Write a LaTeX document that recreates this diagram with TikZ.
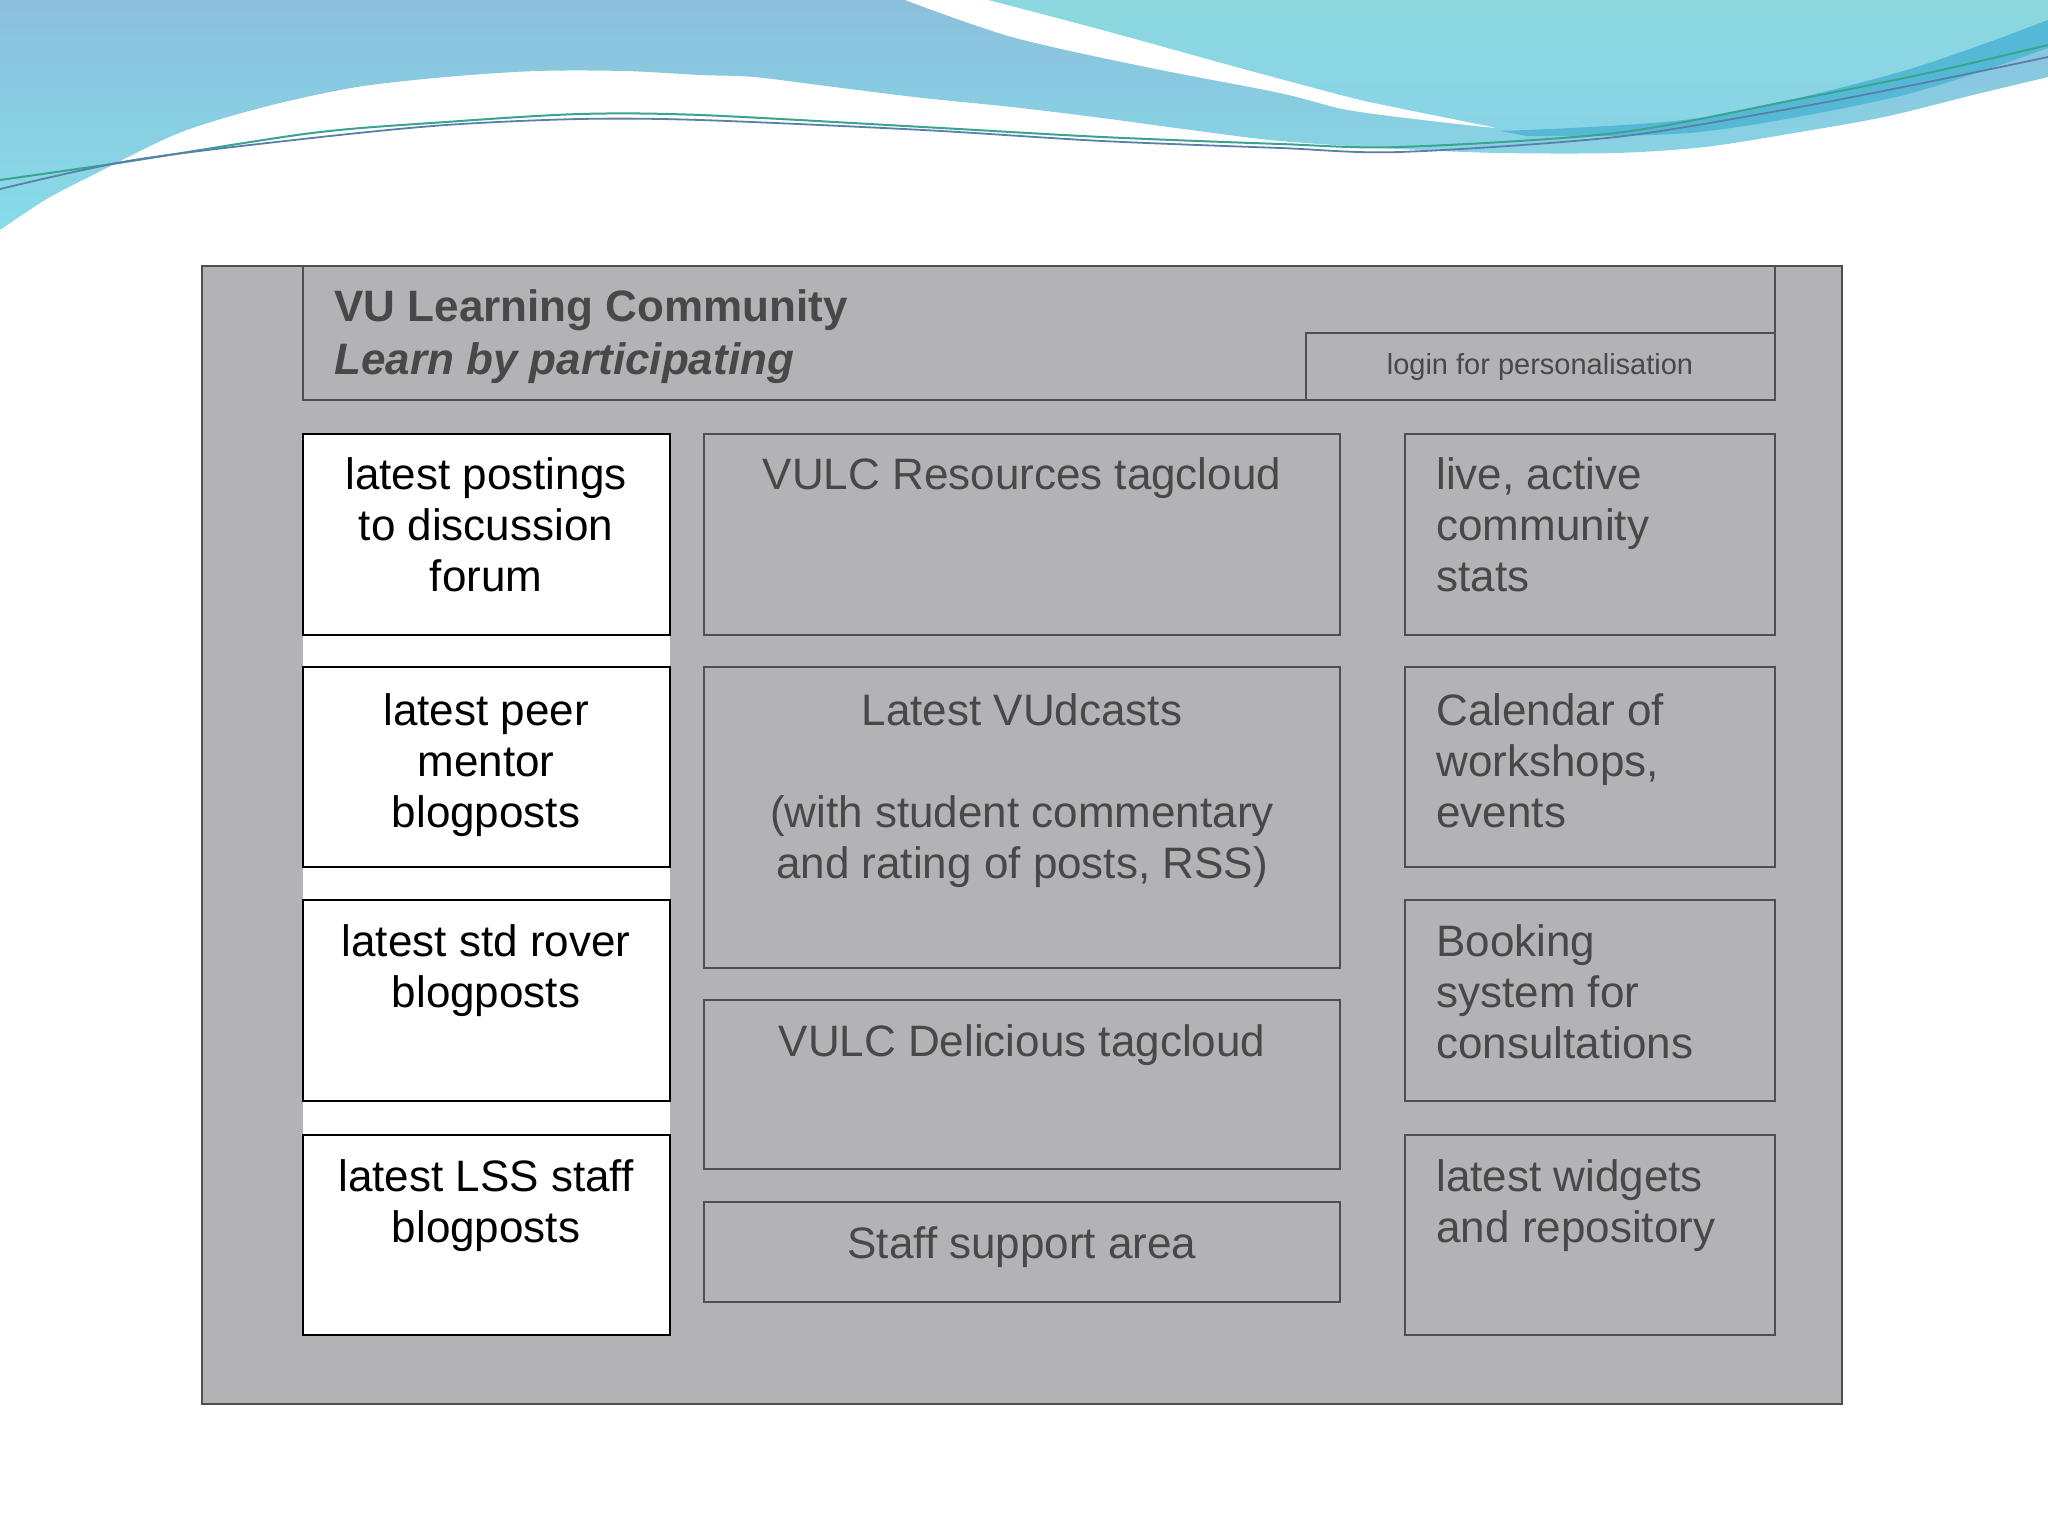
\documentclass[tikz,border=0pt]{standalone}
\usepackage{fontspec}
\setmainfont{Liberation Sans}
\usetikzlibrary{fit}
\definecolor{panel}{HTML}{B3B2B5}
\definecolor{edgec}{HTML}{4F4F4F}
\definecolor{txt}{HTML}{484848}
\definecolor{waveTop}{HTML}{8BBFDB}
\definecolor{waveBot}{HTML}{86DDE9}
\definecolor{waveRT}{HTML}{8CD8DE}
\definecolor{waveRB}{HTML}{88D4E8}
\definecolor{streak}{HTML}{55B9D6}
\definecolor{ribA}{HTML}{3AA58F}
\definecolor{ribB}{HTML}{5A7FA8}
\begin{document}
\begin{tikzpicture}[x=0.5pt,y=-0.5pt,
  greybox/.style={draw=edgec,line width=1.4pt,inner sep=0pt},
  whitebox/.style={draw=black,fill=white,line width=1.3pt,inner sep=0pt},
  bigtext/.style={font=\fontsize{22pt}{25.5pt}\selectfont,inner sep=0pt},
  greytext/.style={bigtext,text=txt},
  blacktext/.style={bigtext,text=black}]
\useasboundingbox (0,0) rectangle (2048,1536);
\fill[white] (0,0) rectangle (2048,1536);
% waves
\shade[top color=waveTop,bottom color=waveBot]
  (0,0) -- (2048,0) -- plot[smooth] coordinates {(2048,77) (1973,95) (1884,117) (1794,133) (1705,147) (1616,153) (1500,153) (1400,149) (1280,141) (1191,130) (1102,118) (1012,107) (923,98) (834,87) (754,77) (700,75) (625,71) (536,71) (446,77) (357,87) (268,106) (179,133) (89,177) (45,200) (0,230)} -- cycle;
\shade[top color=waveRT,bottom color=waveRB]
  (988,0) -- (2048,0) -- (2048,40) -- plot[smooth] coordinates {(2048,40) (1900,75) (1700,118) (1527,132)} -- plot[smooth] coordinates {(1495,128) (1393,107) (1348,97) (1236,67) (1102,30) (988,0)} -- cycle;
\fill[streak] plot[smooth] coordinates {(1500,131) (1700,118) (1900,72) (2048,20)} -- (2048,48) -- plot[smooth] coordinates {(2048,48) (1900,96) (1700,132) (1527,136)} -- cycle;
\fill[white] plot[smooth] coordinates {(905,0) (1012,37) (1146,67) (1280,93) (1348,110) (1440,122) (1495,128)} -- plot[smooth] coordinates {(1495,128) (1482,125) (1393,107) (1348,97) (1236,67) (1102,30) (988,0)} -- cycle;
\draw[ribA,line width=1pt] plot[smooth] coordinates {(0,180) (125,162) (312,133) (446,122) (580,114) (700,115) (923,127) (1102,137) (1280,144) (1400,147) (1616,133) (1794,100) (1928,73) (2048,45)};
\draw[ribB,line width=0.9pt] plot[smooth] coordinates {(0,189) (134,160) (312,138) (446,125) (580,119) (700,120) (923,130) (1102,141) (1280,148) (1400,152) (1616,137) (1794,108) (1928,82) (2048,57)};
% panel
\node[greybox,fill=panel,fit={(202,266)(1842,1404)}] (outer) {};
\node[greybox,fit={(303,266)(1775,400)}] (header) {};
\node[greybox,fit={(1306,333)(1775,400)}] (login) {};
\node[bigtext,text=txt,anchor=base west,font=\fontsize{22pt}{25.5pt}\selectfont\bfseries] (title) at (334,321) {VU Learning Community};
\node[bigtext,text=txt,anchor=base west,font=\fontsize{22pt}{25.5pt}\selectfont\bfseries\itshape] (slogan) at (334,374) {Learn by participating};
\node[inner sep=0pt,text=txt,anchor=base,font=\fontsize{14.5pt}{17pt}\selectfont] (logintext) at (1540,374) {login for personalisation};
% left column
\fill[white] (303,434) rectangle (670,1335);
\node[whitebox,fit={(303,434)(670,635)}] (l1) {};
\node[whitebox,fit={(303,667)(670,867)}] (l2) {};
\node[whitebox,fit={(303,900)(670,1101)}] (l3) {};
\node[whitebox,fit={(303,1135)(670,1335)}] (l4) {};
\node[blacktext,align=center,anchor=base] (l1t) at (486,591) {latest postings\\to discussion\\forum};
\node[blacktext,align=center,anchor=base] (l2t) at (486,827) {latest peer\\mentor\\blogposts};
\node[blacktext,align=center,anchor=base] (l3t) at (486,1007) {latest std rover\\blogposts};
\node[blacktext,align=center,anchor=base] (l4t) at (486,1242) {latest LSS staff\\blogposts};
% middle column
\node[greybox,fit={(704,434)(1340,635)}] (m1) {};
\node[greybox,fit={(704,667)(1340,968)}] (m2) {};
\node[greybox,fit={(704,1000)(1340,1169)}] (m3) {};
\node[greybox,fit={(704,1202)(1340,1302)}] (m4) {};
\node[greytext,anchor=base] (m1t) at (1022,489) {VULC Resources tagcloud};
\node[greytext,align=center,anchor=base] (m2t) at (1022,878) {Latest VUdcasts\\[25.5pt](with student commentary\\and rating of posts, RSS)};
\node[greytext,anchor=base] (m3t) at (1022,1056) {VULC Delicious tagcloud};
\node[greytext,anchor=base] (m4t) at (1022,1258) {Staff support area};
% right column
\node[greybox,fit={(1405,434)(1775,635)}] (r1) {};
\node[greybox,fit={(1405,667)(1775,867)}] (r2) {};
\node[greybox,fit={(1405,900)(1775,1101)}] (r3) {};
\node[greybox,fit={(1405,1135)(1775,1335)}] (r4) {};
\node[greytext,align=left,anchor=base west] (r1t) at (1436,591) {live, active\\community\\stats};
\node[greytext,align=left,anchor=base west] (r2t) at (1436,827) {Calendar of\\workshops,\\events};
\node[greytext,align=left,anchor=base west] (r3t) at (1436,1058) {Booking\\system for\\consultations};
\node[greytext,align=left,anchor=base west] (r4t) at (1436,1242) {latest widgets\\and repository};
\end{tikzpicture}
\end{document}
